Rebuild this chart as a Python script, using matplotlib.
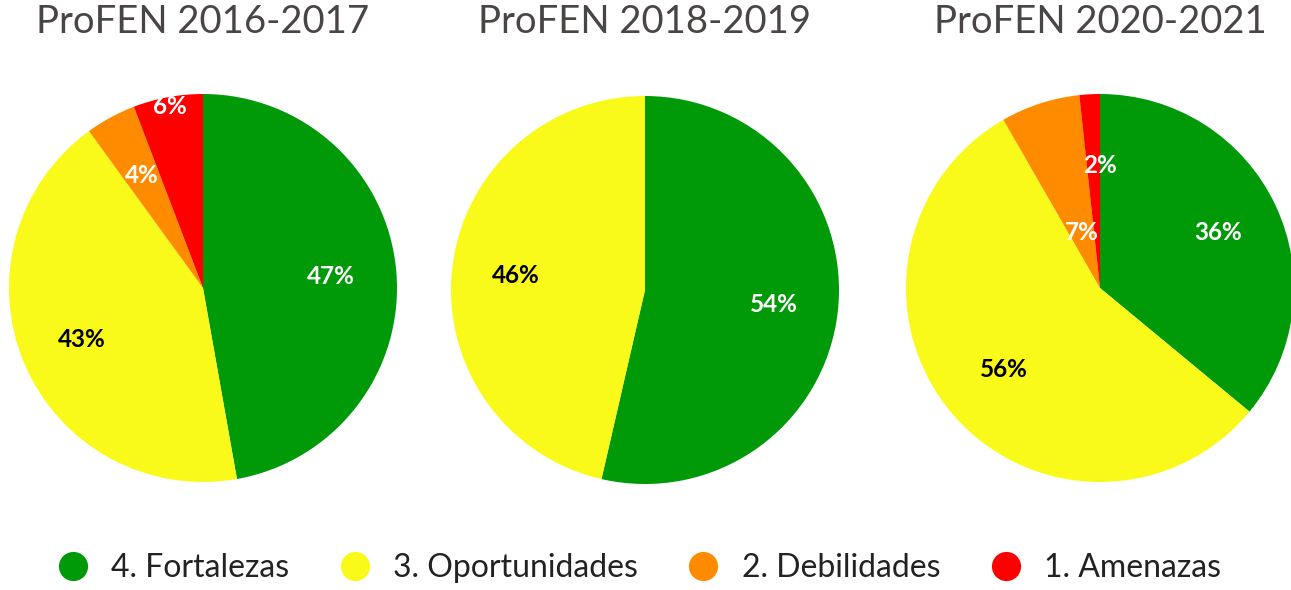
import matplotlib
matplotlib.use("Agg")
import matplotlib.pyplot as plt
from matplotlib.lines import Line2D
import numpy as np

plt.rcParams["font.family"] = ["Lato", "DejaVu Sans"]

titles = ["ProFEN 2016-2017", "ProFEN 2018-2019", "ProFEN 2020-2021"]
categories = ["4. Fortalezas", "3. Oportunidades", "2. Debilidades", "1. Amenazas"]
colors = ["#009a08", "#f9f91a", "#ff8c00", "#ff0000"]
text_colors = ["white", "black", "white", "white"]

values_2016 = [47.2, 42.8, 4.2, 5.8]
values_2018 = [53.6, 46.4, 0.0, 0.0]
values_2020 = [36.0, 55.7, 6.6, 1.7]
series = [values_2016, values_2018, values_2020]

# label distance from centre, per slice (small slices are nudged)
label_dist = [
    [0.66, 0.68, 0.66, 0.95],
    [0.67, 0.67, 0.66, 0.66],
    [0.67, 0.65, 0.30, 0.63],
]

W, H = 1291, 590
fig = plt.figure(figsize=(W / 100, H / 100), dpi=100)

# pie centre (px) and radius (px)
centres = [(203, 288), (645, 290), (1100, 288)]
radius = 194

for i, vals in enumerate(series):
    cx, cy = centres[i]
    ax = fig.add_axes([(cx - radius) / W, (H - cy - radius) / H, 2 * radius / W, 2 * radius / H])
    wedges, _, autotexts = ax.pie(
        vals, colors=colors, startangle=90, counterclock=False,
        autopct=lambda p: f"{p:.0f}%" if p > 0.5 else "",
        pctdistance=0.66, radius=1.0,
        wedgeprops=dict(linewidth=0),
        textprops=dict(fontsize=17.5, fontweight="bold"),
    )
    for j, (w, t) in enumerate(zip(wedges, autotexts)):
        mid = np.deg2rad((w.theta1 + w.theta2) / 2)
        d = label_dist[i][j]
        t.set_position((d * np.cos(mid), d * np.sin(mid)))
        t.set_color(text_colors[j])
    if i == 2:
        autotexts[3].set_x(0.0)
    ax.set_xlim(-1.0, 1.0)
    ax.set_ylim(-1.0, 1.0)
    ax.set_aspect("equal")
    fig.text(cx / W, 1 - 22 / H, titles[i], ha="center", va="center",
             fontsize=27.5, color="#4a4545")

handles = [Line2D([], [], marker="o", linestyle="", markersize=21,
                  markerfacecolor=c, markeredgewidth=0) for c in colors]
fig.legend(handles, categories, loc="center", bbox_to_anchor=(631 / W, 1 - 568 / H),
           ncol=4, frameon=False, fontsize=23, handletextpad=0.2,
           columnspacing=1.05, labelcolor="#222222")

fig.savefig("out.png", dpi=100)
